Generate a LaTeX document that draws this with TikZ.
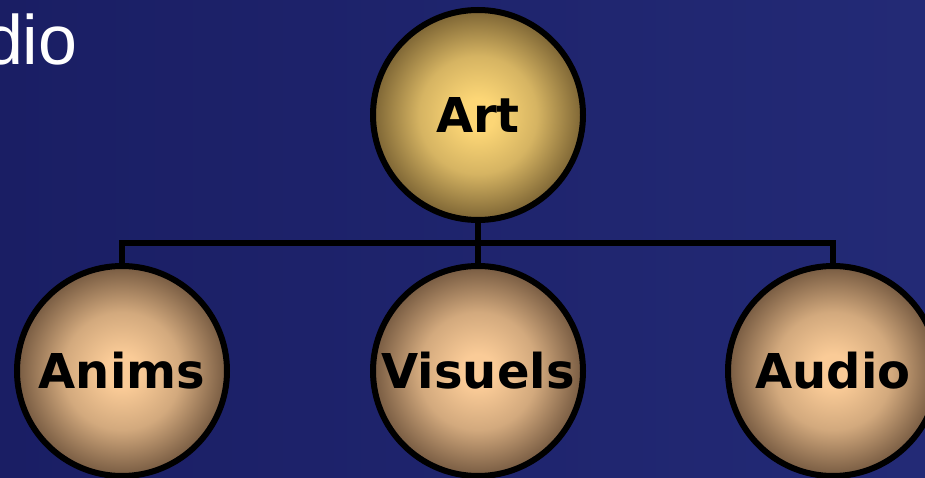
\documentclass[tikz,border=0pt]{standalone}
\usepackage{fontspec}
\setmainfont{DejaVu Sans}
\newfontfamily\headfont{Liberation Sans}
\usetikzlibrary{positioning}
\definecolor{BgDark}{HTML}{1A1E64}
\definecolor{BgLight}{HTML}{232A76}
\definecolor{GoldCore}{HTML}{FCD676}
\definecolor{GoldRim}{HTML}{7C6434}
\definecolor{SandCore}{HTML}{FACB97}
\definecolor{SandRim}{HTML}{765A41}
\pgfdeclareradialshading{goldball}{\pgfpoint{0bp}{0bp}}{color(0bp)=(GoldCore); color(4bp)=(GoldCore); color(14bp)=(GoldCore!70!GoldRim); color(25bp)=(GoldRim); color(50bp)=(GoldRim)}
\pgfdeclareradialshading{sandball}{\pgfpoint{0bp}{0bp}}{color(0bp)=(SandCore); color(4bp)=(SandCore); color(14bp)=(SandCore!70!SandRim); color(25bp)=(SandRim); color(50bp)=(SandRim)}
\begin{document}
\begin{tikzpicture}[x=1pt,y=-1pt,
          every node/.style={font=\fontsize{48}{48}\selectfont\bfseries},
          ball/.style={circle,draw=black,line width=6pt,minimum size=210pt,inner sep=0pt,text=black},
          ln/.style={black,line width=6pt}]
        \useasboundingbox (0,0) rectangle (925,478);
        \shade[left color=BgDark, right color=BgLight] (0,0) rectangle (925,478);
        \node[anchor=base east, text=white,
          font=\fontsize{70}{70}\selectfont\headfont] (head) at (81,65) {Audio};
        \coordinate (bar) at (478,243);
        \draw[ln] (122,243) -- (833,243);
        \node[ball, shading=goldball] (art) at (478,115) {Art};
        \node[ball, shading=sandball] (anims) at (122,371) {Anims};
        \node[ball, shading=sandball] (visuels) at (478,371) {Visuels};
        \node[ball, shading=sandball] (audio) at (833,371) {Audio};
        \draw[ln] (art) -- (bar) -- (visuels);
        \draw[ln] (bar) -| (anims); \draw[ln] (bar) -| (audio);
      \end{tikzpicture}
\end{document}
